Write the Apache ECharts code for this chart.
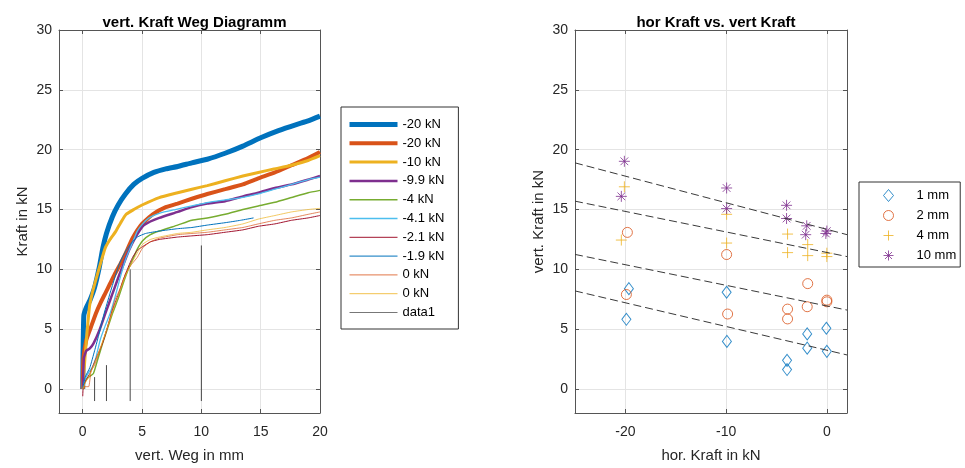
<!DOCTYPE html>
<html><head><meta charset="utf-8">
<script src="https://cdn.jsdelivr.net/npm/echarts@6/dist/echarts.min.js"></script>
<style>html,body{margin:0;padding:0;background:#fff}#c{width:965px;height:468px}</style>
</head><body><div id="c"></div>
<script>
// ---------- Left chart: vert. Kraft Weg Diagramm ----------
const curveNames = ['-20 kN', '-20 kN', '-10 kN', '-9.9 kN', '-4 kN', '-4.1 kN', '-2.1 kN', '-1.9 kN', '0 kN', '0 kN'];

const weg_m20a = [0, 0.02, 0.06, 0.1, 0.3, 0.6, 1.0, 1.4, 1.7, 2.0, 2.5, 3.0, 3.6, 4.3, 5.0, 6.0, 7.0, 8.0, 9.2, 10.5, 12.0, 13.5, 15.0, 16.5, 18.0, 19.0, 20.0];
const kraft_m20a = [0.0, 2.5, 5.0, 6.2, 6.8, 7.4, 8.5, 10.2, 11.8, 13.0, 14.4, 15.4, 16.3, 17.1, 17.6, 18.1, 18.4, 18.6, 18.9, 19.2, 19.7, 20.3, 21.0, 21.6, 22.1, 22.4, 22.8];

const weg_m20b = [0, 0.05, 0.3, 0.7, 1.1, 1.5, 1.9, 2.3, 2.7, 3.2, 3.6, 4.2, 5.0, 5.9, 7.0, 8.0, 9.2, 10.5, 12.0, 13.5, 14.8, 16.2, 17.6, 19.0, 20.0];
const kraft_m20b = [0.0, 2.5, 4.1, 5.2, 6.3, 7.2, 8.0, 8.8, 9.6, 10.5, 11.3, 12.6, 13.8, 14.6, 15.2, 15.5, 15.9, 16.3, 16.7, 17.1, 17.6, 18.1, 18.7, 19.3, 19.8];

const weg_m10 = [0, 0.1, 0.3, 0.57, 0.8, 1.1, 1.5, 1.9, 2.3, 2.8, 3.2, 3.66, 4.3, 5.05, 6.45, 8.0, 9.2, 10.5, 12.0, 13.5, 14.8, 16.2, 17.6, 19.0, 20.0];
const kraft_m10 = [0.0, 1.4, 4.0, 6.9, 8.0, 9.1, 10.5, 11.8, 12.5, 13.2, 13.9, 14.6, 15.0, 15.4, 16.0, 16.4, 16.7, 17.0, 17.4, 17.8, 18.1, 18.4, 18.7, 19.1, 19.5];

const weg_m99 = [0, 0.1, 0.3, 0.6, 0.9, 1.4, 1.9, 2.3, 2.7, 3.1, 3.5, 3.9, 4.4, 5.05, 5.7, 6.45, 8.0, 9.2, 10.5, 12.0, 13.5, 14.8, 16.2, 17.6, 19.0, 20.0];
const kraft_m99 = [0.0, 2.6, 3.2, 3.4, 3.8, 4.9, 6.3, 7.4, 8.5, 9.6, 10.6, 11.6, 12.6, 13.6, 14.0, 14.3, 14.8, 15.2, 15.5, 15.7, 16.1, 16.4, 16.8, 17.1, 17.5, 17.8];

const weg_m4 = [0, 0.2, 0.5, 0.9, 1.3, 1.7, 2.1, 2.5, 3.0, 3.4, 3.8, 4.2, 4.6, 5.05, 5.7, 6.45, 8.0, 9.2, 10.5, 12.0, 13.5, 14.8, 16.2, 17.6, 19.0, 20.0];
const kraft_m4 = [0.0, 0.6, 1.0, 1.3, 2.6, 3.9, 5.1, 6.3, 7.6, 8.8, 9.9, 10.8, 11.7, 12.4, 12.9, 13.2, 13.7, 14.1, 14.3, 14.6, 15.0, 15.3, 15.6, 16.0, 16.4, 16.6];

const weg_m41 = [0, 0.2, 0.5, 0.8, 1.1, 1.5, 1.9, 2.3, 2.7, 3.1, 3.6, 4.1, 4.6, 5.05, 5.6, 6.5, 7.8, 9.2, 10.6, 12.0, 13.4, 14.8, 16.2, 17.6, 19.0, 20.0];
const kraft_m41 = [0.0, 0.8, 1.4, 1.8, 2.6, 4.2, 5.3, 6.3, 7.6, 9.1, 10.8, 12.0, 13.2, 13.8, 14.3, 14.7, 15.0, 15.3, 15.6, 15.8, 16.0, 16.3, 16.7, 17.1, 17.5, 17.7];

const weg_m21 = [0, 0.05, 0.3, 0.6, 1.1, 1.7, 2.1, 2.5, 3.0, 3.4, 3.8, 4.2, 4.6, 5.05, 5.7, 6.45, 8.0, 9.2, 10.5, 12.0, 13.5, 14.8, 16.2, 17.6, 19.0, 20.0];
const kraft_m21 = [-0.6, 0.2, 0.8, 1.3, 2.5, 3.9, 5.2, 6.6, 7.9, 9.1, 10.1, 11.0, 11.6, 11.9, 12.3, 12.5, 12.7, 12.8, 12.9, 13.1, 13.3, 13.6, 13.8, 14.1, 14.3, 14.5];

const weg_m19 = [0, 0.2, 0.6, 1.0, 1.4, 1.8, 2.3, 2.7, 3.1, 3.6, 4.1, 4.6, 5.3, 6.45, 8.0, 9.2, 10.5, 12.0, 13.3, 14.4];
const kraft_m19 = [0.0, 1.0, 1.8, 3.2, 4.7, 6.3, 8.0, 9.3, 10.5, 11.5, 12.2, 12.7, 13.0, 13.2, 13.4, 13.5, 13.7, 13.9, 14.1, 14.3];

const weg_0a = [0, 0.1, 0.5, 0.7, 1.0, 1.5, 2.0, 2.4, 2.7, 3.2, 3.6, 4.1, 4.6, 5.05, 5.7, 6.45, 8.0, 9.2, 10.5, 12.0, 13.5, 14.8, 16.2, 17.6, 19.0, 20.0];
const kraft_0a = [0.0, 0.2, 0.2, 1.5, 2.0, 3.4, 4.9, 6.3, 7.4, 8.5, 9.6, 10.4, 11.0, 11.8, 12.3, 12.6, 12.9, 13.0, 13.1, 13.3, 13.5, 13.8, 14.1, 14.3, 14.6, 14.8];

const weg_0b = [0, 0.2, 0.6, 1.0, 1.5, 2.0, 2.5, 3.0, 3.5, 4.0, 4.5, 5.05, 5.7, 6.45, 8.0, 9.2, 10.5, 12.0, 13.5, 14.8, 16.2, 17.6, 19.0, 20.0];
const kraft_0b = [0.0, 0.5, 1.2, 2.2, 3.5, 4.9, 6.4, 7.8, 9.2, 10.3, 11.2, 12.1, 12.5, 12.7, 13.0, 13.1, 13.3, 13.5, 13.8, 14.2, 14.5, 14.8, 15.0, 15.1];

// data1: vertical reference lines
const data1X = [1, 2, 4, 10];
const data1Top = [1, 2, 10, 12];
const data1Bottom = -1;

// ---------- Right chart: hor Kraft vs. vert Kraft ----------
const scatterNames = ['1 mm', '2 mm', '4 mm', '10 mm'];
const hor_1mm = [-19.65, -19.9, -9.95, -9.92, -3.95, -3.95, -1.95, -1.95, -0.05, 0];
const vert_1mm = [8.39, 5.83, 8.09, 3.98, 2.4, 1.63, 4.61, 3.42, 5.08, 3.15];
const hor_2mm = [-19.8, -19.9, -9.95, -9.85, -3.9, -3.9, -1.9, -1.95, 0, 0];
const vert_2mm = [13.09, 7.9, 11.24, 6.27, 6.68, 5.86, 8.81, 6.88, 7.43, 7.29];
const hor_4mm = [-20.1, -20.4, -9.95, -9.95, -3.9, -3.9, -1.9, -1.9, 0, 0];
const vert_4mm = [16.9, 12.45, 14.6, 12.2, 12.95, 11.4, 12.07, 11.15, 11.35, 11.07];
const hor_10mm = [-20.1, -20.4, -9.95, -9.95, -4.0, -4.0, -2.0, -2.1, 0, -0.1];
const vert_10mm = [19.03, 16.1, 16.8, 15.08, 15.35, 14.25, 13.64, 12.9, 13.2, 13.0];

// fitted trend lines (endpoints at x = -25 and x = 2)
const fitX = [-25, 2];
const fit_1mm = [8.2, 2.85];
const fit_2mm = [11.25, 6.6];
const fit_4mm = [15.7, 11.07];
const fit_10mm = [18.9, 12.9];

// ---------- build ----------
const FONT = '"Liberation Sans", Arial, Helvetica, sans-serif';
const curveX = [weg_m20a, weg_m20b, weg_m10, weg_m99, weg_m4, weg_m41, weg_m21, weg_m19, weg_0a, weg_0b];
const curveY = [kraft_m20a, kraft_m20b, kraft_m10, kraft_m99, kraft_m4, kraft_m41, kraft_m21, kraft_m19, kraft_0a, kraft_0b];
const curveColors = ['#0072BD', '#D95319', '#EDB120', '#7E2F8E', '#77AC30', '#4DBEEE', '#A2142F', '#0072BD', '#D95319', '#EDB120'];
const curveWidths = [5, 4, 3, 2.5, 1.5, 1.3, 1, 1, 0.7, 0.7];

const zip = (a, b) => a.map((v, i) => [v, b[i]]);
const series = [];
const legendLeft = [];
curveNames.forEach((n, i) => {
  const id = n + '#' + i;
  series.push({
    type: 'line', name: id, xAxisIndex: 0, yAxisIndex: 0,
    data: zip(curveX[i], curveY[i]), symbol: 'none', smooth: 0.15,
    lineStyle: { color: curveColors[i], width: curveWidths[i] },
    itemStyle: { color: curveColors[i] }
  });
  legendLeft.push({ name: id, lineStyle: { width: Math.max(curveWidths[i], 0.8) } });
});
const d1 = [];
data1X.forEach((x, i) => {
  if (i > 0) d1.push(['-', '-']);
  d1.push([x, data1Bottom]); d1.push([x, data1Top[i]]);
});
series.push({
  type: 'line', name: 'data1#x', xAxisIndex: 0, yAxisIndex: 0, data: d1,
  symbol: 'none', connectNulls: false,
  lineStyle: { color: '#333', width: 0.9 }, itemStyle: { color: '#333' }
});
legendLeft.push({ name: 'data1#x', lineStyle: { width: 1, color: '#777' } });

const fits = [fit_1mm, fit_2mm, fit_4mm, fit_10mm];
fits.forEach((f, i) => {
  series.push({
    type: 'line', name: 'fit' + i, xAxisIndex: 2, yAxisIndex: 2,
    data: zip(fitX, f), symbol: 'none', silent: true,
    lineStyle: { color: '#3a3a3a', width: 1, type: [8, 4] }
  });
});

const plusPath = 'path://M0,5L10,5M5,0L5,10';
const starPath = 'path://M0,5L10,5M5,0L5,10M1.5,1.5L8.5,8.5M1.5,8.5L8.5,1.5';
const scatterDefs = [
  { x: hor_1mm, y: vert_1mm, symbol: 'diamond', size: [9, 12], color: '#0072BD' },
  { x: hor_2mm, y: vert_2mm, symbol: 'circle', size: 10, color: '#D95319' },
  { x: hor_4mm, y: vert_4mm, symbol: plusPath, size: 11, color: '#EDB120' },
  { x: hor_10mm, y: vert_10mm, symbol: starPath, size: 11, color: '#7E2F8E' }
];
scatterDefs.forEach((d, i) => {
  series.push({
    type: 'scatter', name: scatterNames[i], xAxisIndex: 2, yAxisIndex: 2,
    data: zip(d.x, d.y), symbol: d.symbol, symbolSize: d.size,
    itemStyle: { color: 'rgba(0,0,0,0)', borderColor: d.color, borderWidth: 1 }
  });
});

const axisCol = '#555';
const labCol = '#262626';
function xAx(grid, min, max, pos, split, showLab) {
  return {
    type: 'value', gridIndex: grid, min: min, max: max, position: pos, splitNumber: split,
    axisLine: { show: true, onZero: false, lineStyle: { color: axisCol, width: 1 } },
    axisTick: { show: true, inside: true, length: 4, lineStyle: { color: axisCol } },
    axisLabel: { show: showLab, color: labCol, fontSize: 14, fontFamily: FONT, margin: 12 },
    splitLine: { show: showLab, lineStyle: { color: '#e4e4e4', width: 1 } }
  };
}
function yAx(grid, min, max, pos, showLab) {
  return {
    type: 'value', gridIndex: grid, min: min, max: max, position: pos, splitNumber: 6,
    axisLine: { show: true, onZero: false, lineStyle: { color: axisCol, width: 1 } },
    axisTick: { show: true, inside: true, length: 4, lineStyle: { color: axisCol } },
    axisLabel: { show: showLab, color: labCol, fontSize: 14, fontFamily: FONT, margin: 7 },
    splitLine: { show: showLab, lineStyle: { color: '#e4e4e4', width: 1 } }
  };
}
const nameStyle = { fontSize: 15, color: labCol, fontFamily: FONT };
const xA0 = Object.assign(xAx(0, -2, 20, 'bottom', 5, true), { name: 'vert. Weg in mm', nameLocation: 'middle', nameGap: 35, nameTextStyle: nameStyle });
const xA2 = Object.assign(xAx(1, -25, 2, 'bottom', 3, true), { name: 'hor. Kraft in kN', nameLocation: 'middle', nameGap: 35, nameTextStyle: nameStyle });
const yA0 = Object.assign(yAx(0, -2, 30, 'left', true), { name: 'Kraft in kN', nameLocation: 'middle', nameGap: 29, nameTextStyle: nameStyle });
const yA2 = Object.assign(yAx(1, -2, 30, 'left', true), { name: 'vert. Kraft in kN', nameLocation: 'middle', nameGap: 29, nameTextStyle: nameStyle });
yA0.axisLabel.formatter = yA2.axisLabel.formatter = v => (v % 5 === 0 ? String(v) : '');
xA0.axisLabel.formatter = v => (v % 5 === 0 ? String(v) : '');
xA2.axisLabel.formatter = v => (v % 10 === 0 ? String(v) : '');

const option = {
  animation: false,
  backgroundColor: '#fff',
  textStyle: { fontFamily: FONT },
  title: [
    { text: 'vert. Kraft Weg Diagramm', left: 189.5, top: 10, textAlign: 'center',
      textStyle: { fontSize: 15, fontWeight: 'bold', color: '#000', fontFamily: FONT } },
    { text: 'hor Kraft vs. vert Kraft', left: 711, top: 10, textAlign: 'center',
      textStyle: { fontSize: 15, fontWeight: 'bold', color: '#000', fontFamily: FONT } }
  ],
  grid: [
    { left: 59, top: 30, width: 261, height: 386 },
    { left: 575, top: 30, width: 272, height: 386 }
  ],
  xAxis: [xA0, xAx(0, -2, 20, 'top', 5, false), xA2, xAx(1, -25, 2, 'top', 3, false)],
  yAxis: [yA0, yAx(0, -2, 30, 'right', false), yA2, yAx(1, -2, 30, 'right', false)],
  legend: [
    { orient: 'vertical', left: 341, top: 107, data: legendLeft,
      itemWidth: 48, itemHeight: 14, itemGap: 5.8, padding: [11, 14, 10, 6],
      borderColor: '#333', borderWidth: 1, backgroundColor: '#fff',
      itemStyle: { opacity: 0 },
      formatter: n => n.split('#')[0], selectedMode: false,
      textStyle: { fontSize: 13, color: '#000', fontFamily: FONT } },
    { orient: 'vertical', left: 859, top: 182, data: scatterNames,
      itemWidth: 10, itemHeight: 12, itemGap: 7, padding: [7, 4, 5, 24],
      borderColor: '#333', borderWidth: 1, backgroundColor: '#fff', selectedMode: false,
      itemStyle: { borderWidth: 1 },
      textStyle: { fontSize: 13, color: '#000', fontFamily: FONT, padding: [0, 0, 0, 18] } }
  ],
  series: series
};
const chart = echarts.init(document.getElementById('c'), null, { renderer: 'canvas' });
chart.setOption(option);
</script>
</body></html>
